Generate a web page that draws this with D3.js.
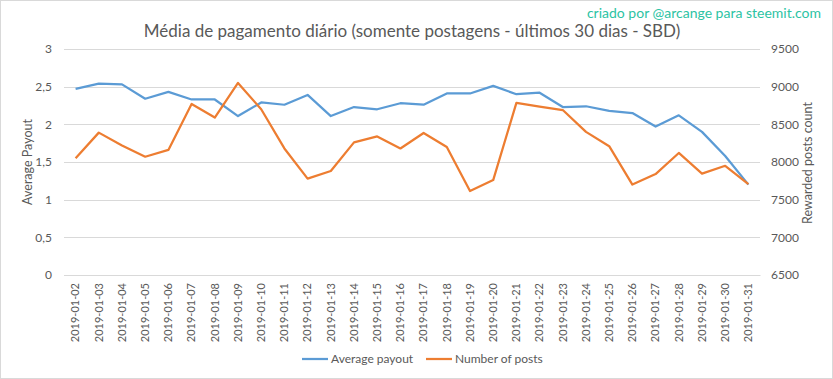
<!DOCTYPE html>
<html><head><meta charset="utf-8">
<script src="https://cdn.jsdelivr.net/npm/d3@7"></script>
<style>body{margin:0;background:#fff;} svg{display:block;font-family:Lato, "Open Sans", sans-serif;}</style>
</head><body>
<svg id="chart" width="833" height="379"></svg>
<script>
const dates = ["2019-01-02","2019-01-03","2019-01-04","2019-01-05","2019-01-06","2019-01-07","2019-01-08","2019-01-09","2019-01-10","2019-01-11","2019-01-12","2019-01-13","2019-01-14","2019-01-15","2019-01-16","2019-01-17","2019-01-18","2019-01-19","2019-01-20","2019-01-21","2019-01-22","2019-01-23","2019-01-24","2019-01-25","2019-01-26","2019-01-27","2019-01-28","2019-01-29","2019-01-30","2019-01-31"];
const avgPayout = [2.47,2.54,2.53,2.34,2.43,2.33,2.33,2.11,2.29,2.26,2.39,2.11,2.23,2.20,2.28,2.26,2.41,2.41,2.51,2.40,2.42,2.23,2.24,2.18,2.15,1.97,2.12,1.90,1.58,1.20];
const numPosts = [8050,8390,8220,8070,8160,8770,8590,9050,8700,8180,7780,7880,8260,8340,8180,8385,8200,7615,7760,8785,8735,8690,8400,8210,7700,7840,8120,7845,7950,7705];
const leftTicks = [0,0.5,1,1.5,2,2.5,3];
const rightTicks = [6500,7000,7500,8000,8500,9000,9500];
const leftLabels = ["0","0,5","1","1,5","2","2,5","3"];

const svg = d3.select("#chart");
const W = 833, H = 379;
const m = {left:64, right:73, top:49, bottom:104};
const x = d3.scaleBand().domain(dates).range([m.left, W - m.right]);
const yL = d3.scaleLinear().domain([0,3]).range([H - m.bottom, m.top]);
const yR = d3.scaleLinear().domain([6500,9500]).range([H - m.bottom, m.top]);
const cx = d => x(d) + x.bandwidth()/2;

svg.append("rect").attr("x",0.5).attr("y",0.5).attr("width",W-1).attr("height",H-1)
  .attr("fill","#fff").attr("stroke","#d9d9d9");

// gridlines
svg.append("g").selectAll("line").data(leftTicks).join("line")
  .attr("x1",m.left).attr("x2",W-m.right)
  .attr("y1",d=>Math.round(yL(d))+0.5).attr("y2",d=>Math.round(yL(d))+0.5)
  .attr("stroke","#d9d9d9").attr("stroke-width",1);

// left axis
const gl = svg.append("g").attr("transform",`translate(${m.left},0)`)
  .call(d3.axisLeft(yL).tickValues(leftTicks).tickFormat((d,i)=>leftLabels[i]).tickSize(0).tickPadding(12));
gl.select(".domain").remove();
gl.selectAll("text").attr("fill","#595959").attr("font-size",12).attr("font-family","Lato, sans-serif");

// right axis
const gr = svg.append("g").attr("transform",`translate(${W-m.right},0)`)
  .call(d3.axisRight(yR).tickValues(rightTicks).tickFormat(d3.format("d")).tickSize(0).tickPadding(11));
gr.select(".domain").remove();
gr.selectAll("text").attr("fill","#595959").attr("font-size",12).attr("font-family","Lato, sans-serif");

// x axis
const gx = svg.append("g").attr("transform",`translate(0,${H-m.bottom})`)
  .call(d3.axisBottom(x).tickSize(0).tickPadding(0));
gx.select(".domain").attr("stroke","#d9d9d9");
gx.selectAll("text").attr("fill","#595959").attr("font-size",11).attr("font-family","Lato, sans-serif")
  .attr("transform","rotate(-90)").attr("text-anchor","end").attr("dy","0.35em").attr("dx","-8").attr("x",0).attr("y",0);

// lines
svg.append("path").datum(avgPayout)
  .attr("d", d3.line().x((d,i)=>cx(dates[i])).y(d=>yL(d)))
  .attr("fill","none").attr("stroke","#5b9bd5").attr("stroke-width",2.25).attr("stroke-linejoin","round");
svg.append("path").datum(numPosts)
  .attr("d", d3.line().x((d,i)=>cx(dates[i])).y(d=>yR(d)))
  .attr("fill","none").attr("stroke","#ed7d31").attr("stroke-width",2.25).attr("stroke-linejoin","round");

// title
svg.append("text").attr("x",412).attr("y",37).attr("text-anchor","middle")
  .attr("font-size",17).attr("fill","#595959").text("Média de pagamento diário (somente postagens - últimos 30 dias - SBD)");
svg.append("text").attr("x",821).attr("y",18).attr("text-anchor","end")
  .attr("font-size",14).attr("fill","#2cc3a3").text("criado por @arcange para steemit.com");

// axis titles
svg.append("text").attr("transform","translate(32,162) rotate(-90)").attr("text-anchor","middle")
  .attr("font-size",12.5).attr("fill","#595959").text("Average Payout");
svg.append("text").attr("transform","translate(812,163) rotate(-90)").attr("text-anchor","middle")
  .attr("font-size",12.5).attr("fill","#595959").text("Rewarded posts count");

// legend
const leg = [{n:"Average payout",c:"#5b9bd5",x:302},{n:"Number of posts",c:"#ed7d31",x:426}];
const lg = svg.append("g").selectAll("g").data(leg).join("g").attr("transform",d=>`translate(${d.x},359)`);
lg.append("line").attr("x1",0).attr("x2",26).attr("stroke",d=>d.c).attr("stroke-width",2.25);
lg.append("text").attr("x",29).attr("dy","0.35em").attr("font-size",12).attr("fill","#595959").text(d=>d.n);
</script>
</body></html>
